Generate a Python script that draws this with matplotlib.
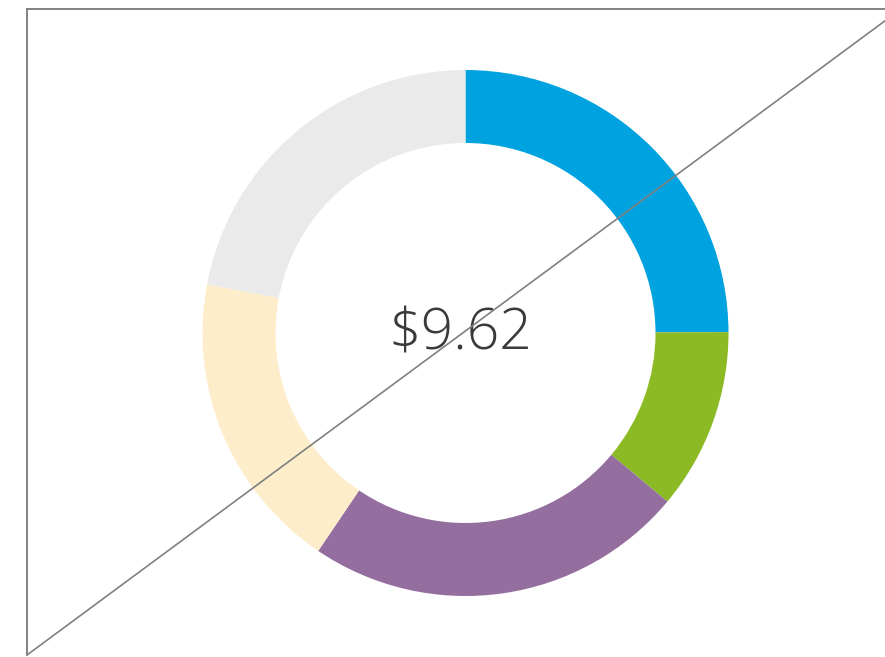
import matplotlib
matplotlib.use("Agg")
import matplotlib.pyplot as plt

# Cost breakdown shown as a donut, total printed in the middle
categories = ["Blue", "Green", "Purple", "Cream", "Gray"]
values = [2.40, 1.07, 2.25, 1.78, 2.12]
colors = ["#00A2E0", "#8BBA25", "#936E9E", "#FEEDCB", "#EAEAEA"]
total_label = "$9.62"

W, H = 885, 657
fig = plt.figure(figsize=(W / 100, H / 100), dpi=100)

# Frame axes with a diagonal from corner to corner
frame_left, frame_top, frame_right, frame_bottom = 27, 9, 901, 655
ax = fig.add_axes([frame_left / W, 1 - frame_bottom / H,
                   (frame_right - frame_left) / W, (frame_bottom - frame_top) / H])
ax.set_xlim(0, 1)
ax.set_ylim(0, 1)
ax.set_xticks([])
ax.set_yticks([])
for side in ("right", "bottom"):
    ax.spines[side].set_visible(False)
for side in ("top", "left"):
    ax.spines[side].set_color("#7a7a7a")
    ax.spines[side].set_linewidth(1.3)
ax.plot([0, 1], [0, 1], color="#808080", lw=1.2, zorder=5)
ax.patch.set_alpha(0)

# Donut axes
cx, cy, r = 465.5, 333, 263
pax = fig.add_axes([(cx - r) / W, 1 - (cy + r) / H, 2 * r / W, 2 * r / H])
pax.pie(values, colors=colors, startangle=90, counterclock=False,
        radius=1.0, wedgeprops=dict(width=73 / 263, linewidth=0))
pax.set_xlim(-1, 1)
pax.set_ylim(-1, 1)
pax.set_aspect("equal")
pax.axis("off")
pax.set_zorder(0)
ax.set_zorder(1)

pax.text(-0.02, -0.005, total_label, ha="center", va="center",
         fontsize=41, color="#3a3a3a", family="Open Sans", fontweight="light")

fig.savefig("out.png", dpi=100)
